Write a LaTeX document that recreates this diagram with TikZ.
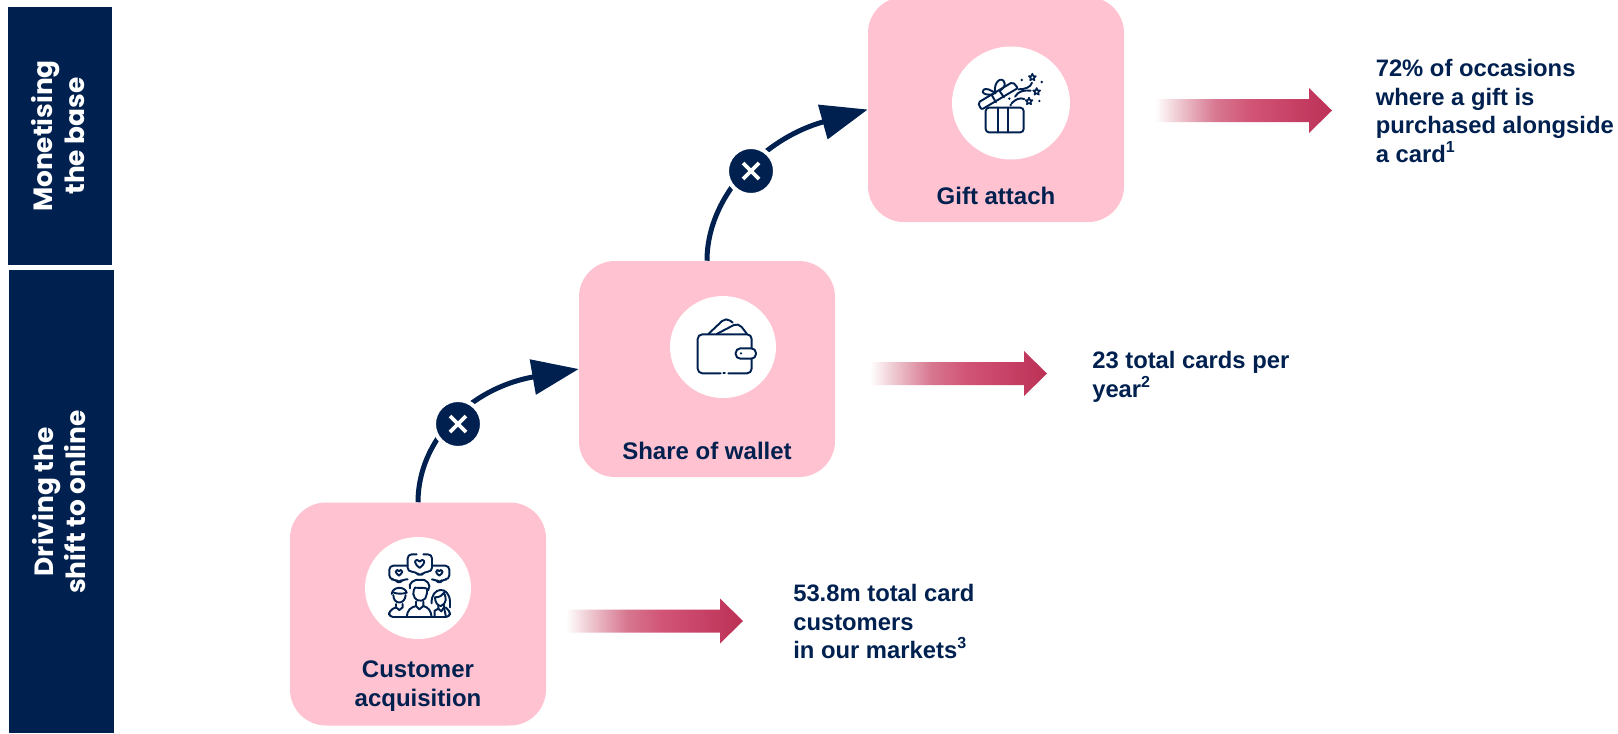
\documentclass[tikz,border=0pt]{standalone}
\usepackage{fontspec}
\setmainfont{Liberation Sans}
\newfontfamily\barfont{Poppins}
\usetikzlibrary{arrows.meta,shapes.geometric}
\definecolor{navy}{RGB}{0,33,80}
\definecolor{boxpink}{RGB}{255,194,208}
\definecolor{arrowfadea}{RGB}{235,190,200}
\definecolor{arrowfadeb}{RGB}{215,120,145}
\definecolor{arrowmid}{RGB}{209,84,118}
\definecolor{arrowend}{RGB}{188,48,86}
\pgfdeclarehorizontalshading{redfade}{100bp}{%
  color(0bp)=(white);color(25bp)=(white);
  color(33bp)=(arrowfadea);
  color(42bp)=(arrowfadeb);
  color(52bp)=(arrowmid);color(75bp)=(arrowend);color(100bp)=(arrowend)}
\def\U{0.75pt}
\tikzset{
  x=0.75pt,y=-0.75pt,
  sidebar/.style={fill=navy,inner sep=0pt},
  sidetext/.style={text=white,rotate=90,inner sep=0pt,align=center,
    font=\barfont\bfseries\fontsize{19.8}{24.5}\selectfont},
  stagebox/.style={fill=boxpink,rounded corners=27pt,inner sep=0pt},
  disc/.style={ellipse,fill=white,inner sep=0pt},
  boxlabel/.style={text=navy,align=center,inner sep=0pt,
    font=\bfseries\fontsize{18}{21.5}\selectfont},
  resulttext/.style={text=navy,align=left,anchor=north west,inner sep=0pt,
    font=\bfseries\fontsize{17.85}{21.5}\selectfont},
  flow/.style={draw=navy,line width=3.75pt,-{Triangle[length=35pt,width=26pt]}},
  timesdisc/.style={circle,fill=navy,draw=white,line width=3pt,minimum size=36pt,inner sep=0pt},
  timescross/.style={draw=white,line width=2.8pt},
  gradarrow/.style={shading=redfade},
  icon/.style={draw=navy,line width=1.45pt,line join=round,line cap=round},
}
\newcommand{\gradshape}[2]{%
  \shade[gradarrow,shift={(#1,#2)}] (0,-11.5) -- (154,-11.5) -- (154,-22.5) -- (177,0) -- (154,22.5) -- (154,11.5) -- (0,11.5) -- cycle;}
\newcommand{\hrtshape}[3]{%
  \draw[icon,shift={(#1,#2)},scale=#3] (0,10) .. controls (-14,0) and (-13,-9) .. (-6,-9) .. controls (-3,-9) and (-1,-7) .. (0,-5) .. controls (1,-7) and (3,-9) .. (6,-9) .. controls (13,-9) and (14,0) .. (0,10) -- cycle;}
\newcommand{\starshape}[3]{%
  \draw[icon,line width=1.2pt,shift={(#1,#2)},scale=#3] (-90:10) -- (-54:4.5) -- (-18:10) -- (18:4.5) -- (54:10) -- (90:4.5) -- (126:10) -- (162:4.5) -- (198:10) -- (234:4.5) -- cycle;}
\begin{document}
\begin{tikzpicture}
\path[use as bounding box,clip] (0,0) rectangle (1618,733);
\fill[white] (0,0) rectangle (1618,733);

% side bars
\node[sidebar,minimum width=104*\U,minimum height=258*\U] (bartop) at (60,136) {};
\node[sidebar,minimum width=105*\U,minimum height=463*\U] (barbot) at (61.5,501.5) {};
\node[sidetext] (ttop) at (58,136) {Monetising\\the base};
\node[sidetext] (tbot) at (59,502) {Driving the\\shift to online};

% stage boxes
\node[stagebox,minimum width=256*\U,minimum height=223*\U] (cust) at (418,614) {};
\node[stagebox,minimum width=256*\U,minimum height=216*\U] (share) at (707,369) {};
\node[stagebox,minimum width=256*\U,minimum height=225*\U] (gift) at (996,109.5) {};

% connectors
\draw[flow] (cust.north) .. controls (418,440) and (470,388) .. (share.west);
\draw[flow] (share.north) .. controls (707,195) and (765,138) .. (gift.west);
\node[timesdisc] (x1) at (458,424) {};
\draw[timescross,shift={(x1.center)}] (-8,-8) -- (8,8) (-8,8) -- (8,-8);
\node[timesdisc] (x2) at (751,171) {};
\draw[timescross,shift={(x2.center)}] (-8,-8) -- (8,8) (-8,8) -- (8,-8);

% discs
\node[disc,minimum width=106*\U,minimum height=102*\U] (d1) at (418,588) {};
\node[disc,minimum width=106*\U,minimum height=102*\U] (d2) at (723,347) {};
\node[disc,minimum width=118*\U,minimum height=113*\U] (d3) at (1011,103) {};

% labels
\node[boxlabel] (l1) at (418,686) {Customer\\acquisition};
\node[boxlabel] (l2) at (707,451) {Share of wallet};
\node[boxlabel] (l3) at (996,196) {Gift attach};

% gradient arrows
\gradshape{566}{621}
\gradshape{870}{373.5}
\gradshape{1155}{110.5}

% result texts
\node[resulttext] (r1) at (793,584) {53.8m total card\\customers\\in our markets\raisebox{0.42em}{\fontsize{12}{12}\selectfont 3}};
\node[resulttext] (r2) at (1092,351) {23 total cards per\\year\raisebox{0.42em}{\fontsize{12}{12}\selectfont 2}};
\node[resulttext] (r3) at (1375.5,59) {72\% of occasions\\where a gift is\\purchased alongside\\a card\raisebox{0.42em}{\fontsize{12}{12}\selectfont 1}};

% gift icon
\begin{scope}[shift={(880,0)},scale=1/3]
\draw[icon,rounded corners=2.5pt] (317,323) -- (317,397) -- (431,397) -- (431,323) -- cycle;
\draw[icon] (354,323) -- (354,397) (385,323) -- (385,397);
\draw[icon,rounded corners=1.5pt] (294,308) -- (398,246) -- (414,264) -- (304,329) -- cycle;
\draw[icon] (335,285) -- (348,307) (358,272) -- (372,292);
\draw[icon] (340,283) .. controls (300,290) and (300,262) .. (325,268) .. controls (335,270) and (342,278) .. (346,280);
\draw[icon] (346,280) .. controls (338,245) and (368,225) .. (374,250) .. controls (376,258) and (366,270) .. (358,272);
\draw[icon] (415,268) .. controls (435,268) and (452,262) .. (456,248);
\draw[icon] (405,290) .. controls (415,272) and (435,270) .. (452,272);
\draw[icon] (395,310) .. controls (405,298) and (420,292) .. (433,297);
\starshape{457}{232}{1.1}
\starshape{470}{275}{1.1}
\starshape{447}{304}{1.1}
\fill[navy] (425,240) circle (4) (485,246) circle (4) (478,303) circle (4) (388,296) circle (4) (392,315) circle (4);
\end{scope}

% wallet icon
\begin{scope}[shift={(600,280)},scale=1/3]
\draw[icon,rounded corners=3.5pt] (362,280) -- (293,280) -- (293,163) -- (455,163) -- (455,205);
\draw[icon,rounded corners=3.5pt] (455,236) -- (455,280) -- (385,280);
\draw[icon] (370,280) -- (375,280);
\draw[icon,rounded corners=3.5pt] (407,205) rectangle (468,236);
\fill[navy] (423,220) circle (3.5);
\draw[icon,rounded corners=4pt] (325,162) -- (378,112) -- (398,128);
\draw[icon,rounded corners=4pt] (350,162) -- (415,128) -- (441,162);
\end{scope}

% people icon
\begin{scope}[shift={(340,520)},scale=1/3]
\draw[icon,rounded corners=3pt] (230,103) -- (203,103) -- (203,155) -- (228,155) -- (240,170) -- (252,155) -- (276,155) -- (276,103) -- (250,103);
\draw[icon,rounded corners=3pt] (203,137) -- (148,137) -- (148,178) -- (167,178) -- (177,190) -- (187,178) -- (203,178);
\draw[icon,rounded corners=3pt] (276,137) -- (328,137) -- (328,178) -- (308,178) -- (298,190) -- (288,178) -- (276,178);
\hrtshape{239}{131}{1.25}
\hrtshape{177}{158}{0.9}
\hrtshape{298}{158}{0.9}
% centre man
\draw[icon] (210,205) .. controls (203,190) and (225,175) .. (240,180) .. controls (260,175) and (275,195) .. (265,210) .. controls (258,200) and (240,205) .. (225,203) .. controls (222,205) and (220,215) .. (220,222);
\draw[icon] (220,222) .. controls (222,240) and (240,250) .. (256,235) .. controls (260,225) and (262,218) .. (262,208);
\draw[icon] (228,245) -- (228,258) -- (238,268) -- (250,258) -- (250,245);
\draw[icon] (228,258) .. controls (212,262) and (202,270) .. (200,291);
\draw[icon] (250,258) .. controls (265,262) and (273,272) .. (275,291);
% left boy
\draw[icon] (155,222) .. controls (158,198) and (195,198) .. (200,218) .. controls (190,222) and (170,222) .. (162,218);
\draw[icon] (160,225) .. controls (160,255) and (195,255) .. (197,225);
\draw[icon] (168,252) -- (168,262) -- (178,270) -- (188,262) -- (188,252);
\draw[icon,rounded corners=3pt] (168,262) -- (147,272) -- (147,291) -- (330,291) -- (330,272) -- (316,262);
% right girl
\draw[icon] (275,250) .. controls (272,200) and (328,195) .. (330,245) -- (330,262);
\draw[icon] (285,232) .. controls (300,232) and (308,225) .. (312,218) .. controls (320,235) and (320,250) .. (303,258) .. controls (292,258) and (285,245) .. (285,232) -- cycle;
\draw[icon] (295,256) -- (295,266) -- (304,274) -- (312,262) -- (312,252);
\draw[icon] (295,266) -- (284,272) -- (284,291) (312,262) -- (318,291);
\end{scope}
\end{tikzpicture}
\end{document}
